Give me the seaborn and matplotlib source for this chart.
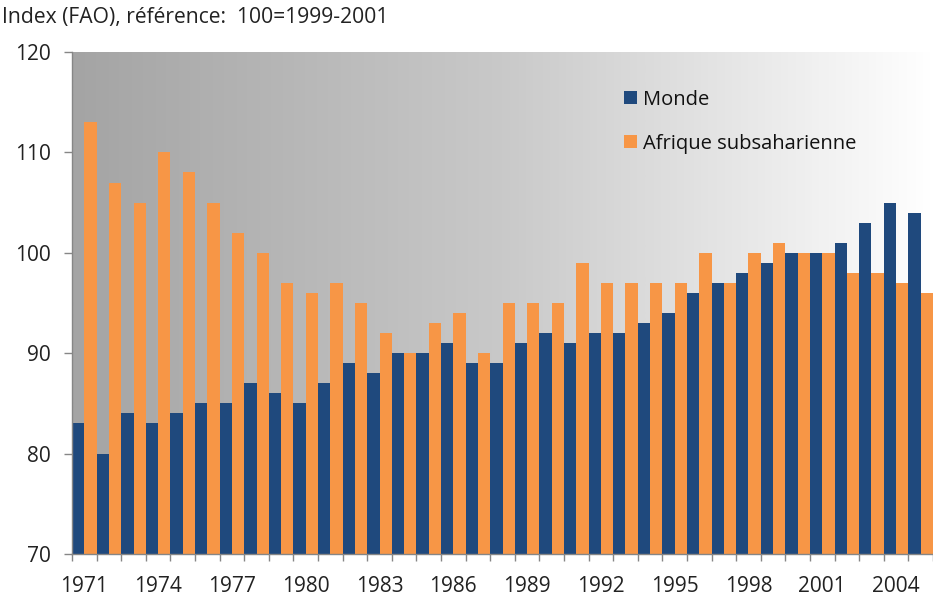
import numpy as np
import pandas as pd
import matplotlib
matplotlib.use("Agg")
import matplotlib.pyplot as plt
import seaborn as sns
from matplotlib.colors import LinearSegmentedColormap
from matplotlib.patches import Patch

years = list(range(1971, 2006))
monde = [83, 80, 84, 83, 84, 85, 85, 87, 86, 85, 87, 89, 88, 90, 90, 91, 89, 89,
         91, 92, 91, 92, 92, 93, 94, 96, 97, 98, 99, 100, 100, 101, 103, 105, 104]
afrique = [113, 107, 105, 110, 108, 105, 102, 100, 97, 96, 97, 95, 92, 90, 93, 94,
           90, 95, 95, 95, 99, 97, 97, 97, 97, 100, 97, 100, 101, 100, 100, 98, 98, 97, 96]
series_names = ["Monde", "Afrique subsaharienne"]
colors = ["#1F497D", "#F79646"]
yticks = [70, 80, 90, 100, 110, 120]
title = "Index (FAO), référence:  100=1999-2001"

df = pd.DataFrame({
    "year": [str(y) for y in years] * 2,
    "value": monde + afrique,
    "serie": [series_names[0]] * len(years) + [series_names[1]] * len(years),
})

sns.set_style("white")
plt.rcParams["font.family"] = ["Open Sans", "DejaVu Sans"]

fig = plt.figure(figsize=(9.33, 6.02), dpi=100)
ax = fig.add_axes([72 / 933, 48 / 602, 861 / 933, 502 / 602])

# gradient background
cmap = LinearSegmentedColormap.from_list("g", ["#A4A4A4", "#C9C9C9", "#FFFFFF"])
grad = np.linspace(0, 1, 512).reshape(1, -1)
ax.imshow(grad, extent=[0, 1, 0, 1], transform=ax.transAxes, aspect="auto",
          cmap=cmap, zorder=0)

sns.barplot(data=df, x="year", y="value", hue="serie", hue_order=series_names,
            palette=colors, saturation=1, width=1.0, gap=0, ax=ax, zorder=2,
            linewidth=0, errorbar=None)

ax.set_ylim(70, 120)
ax.set_xlim(-0.5, -0.5 + 861 / 24.8)
ax.set_yticks(yticks)
ax.set_yticklabels([str(t) for t in yticks], fontsize=15, color="#222222")
ax.tick_params(axis="y", length=6, width=1, color="#868686", pad=9, left=True)

major = list(range(0, len(years), 3))
ax.set_xticks(major)
ax.set_xticklabels([str(years[i]) for i in major], fontsize=15, color="#222222")
ax.set_xticks([i + 0.5 for i in range(len(years))] + [-0.5], minor=True)
ax.tick_params(axis="x", which="major", length=0, pad=16, bottom=True)
ax.tick_params(axis="x", which="minor", length=5, width=1, color="#868686", bottom=True)
ax.set_xlabel("")
ax.set_ylabel("")

for s in ["top", "right"]:
    ax.spines[s].set_visible(False)
for s in ["left", "bottom"]:
    ax.spines[s].set_color("#868686")
    ax.spines[s].set_linewidth(1)
    ax.spines[s].set_zorder(3)

if ax.get_legend() is not None:
    ax.get_legend().remove()
handles = [Patch(facecolor=c, edgecolor="none") for c in colors]
leg = ax.legend(handles, series_names, loc="upper left", bbox_to_anchor=(0.6322, 0.941),
                frameon=False, fontsize=14.5, handlelength=0.62, handleheight=0.62,
                handletextpad=0.3, labelspacing=1.2, borderaxespad=0)
for t in leg.get_texts():
    t.set_color("#111111")

fig.text(2 / 933, 1 - 18 / 602, title, fontsize=15.2, color="#222222",
         ha="left", va="center")

fig.savefig("out.png", dpi=100)
